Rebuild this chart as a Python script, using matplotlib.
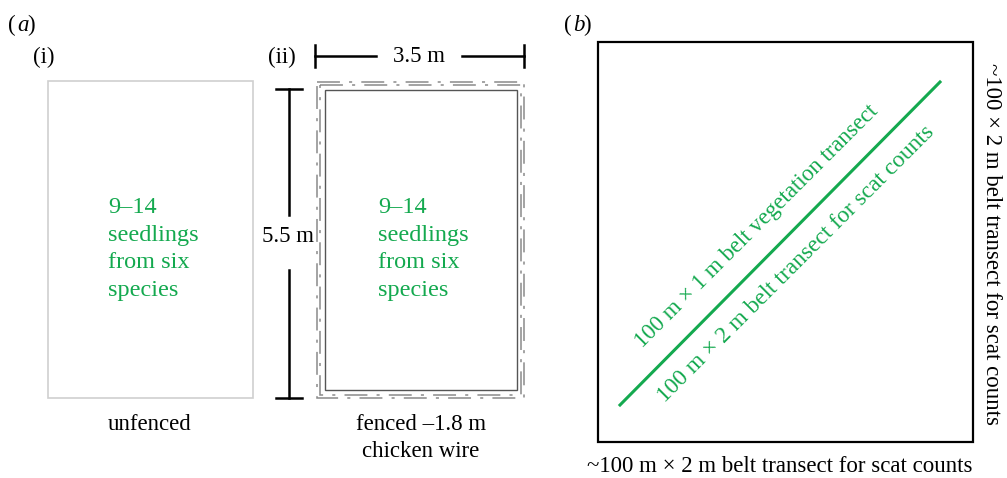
import matplotlib.pyplot as plt
from matplotlib.patches import Rectangle

plt.rcParams['font.family'] = ['Liberation Serif', 'DejaVu Serif']

# text content
plot_labels = ['(i)', '(ii)']
seedling_text = ['9–14', 'seedlings', 'from six', 'species']
plot_captions = ['unfenced', 'fenced –1.8 m\nchicken wire']
dim_labels = ['3.5 m', '5.5 m']
transect_labels = ['100 m × 1 m belt vegetation transect',
                   '100 m × 2 m belt transect for scat counts']
scat_label_right = '~100 × 2 m belt transect for scat counts'
scat_label_bottom = '~100 m × 2 m belt transect for scat counts'

green = '#14a94f'
fs = 16.5
fs_green = 17.5

fig = plt.figure(figsize=(10.07, 4.78), dpi=100)
ax = fig.add_axes([0, 0, 1, 1])
ax.set_xlim(0, 1007)
ax.set_ylim(478, 0)
ax.axis('off')

# panel labels
ax.text(8, 25, '(', fontsize=fs, va='center', ha='left')
ax.text(17, 25, 'a', fontsize=fs, va='center', ha='left', style='italic')
ax.text(27, 25, ')', fontsize=fs, va='center', ha='left')
ax.text(564, 25, '(', fontsize=fs, va='center', ha='left')
ax.text(573, 25, 'b', fontsize=fs, va='center', ha='left', style='italic')
ax.text(583, 25, ')', fontsize=fs, va='center', ha='left')

ax.text(33, 57, plot_labels[0], fontsize=fs, va='center', ha='left')
ax.text(268, 57, plot_labels[1], fontsize=fs, va='center', ha='left')

# (i) unfenced plot
ax.add_patch(Rectangle((48, 81), 205, 317, fill=False, ec='#cfcfcf', lw=1.2))
ax.text(108, 249, '\n'.join(seedling_text), color=green, fontsize=fs_green,
        va='center', ha='left', linespacing=1.42)
ax.text(150, 425, plot_captions[0], fontsize=fs, va='center', ha='center')

# (ii) fenced plot
ax.add_patch(Rectangle((325, 90), 192, 300, fill=False, ec='#555555', lw=1.0))
for off in (0, 3):
    ax.add_patch(Rectangle((317 + off, 82 + off), 207 - 2 * off, 316 - 2 * off,
                           fill=False, ec='#8a8a8a', lw=1.1,
                           ls=(0, (15, 6, 2, 6))))
ax.text(378, 249, '\n'.join(seedling_text), color=green, fontsize=fs_green,
        va='center', ha='left', linespacing=1.42)
ax.text(421, 438, plot_captions[1], fontsize=fs, va='center', ha='center',
        linespacing=1.35)

# dimension markers
ax.plot([315, 376], [56, 56], color='black', lw=1.8)
ax.plot([462, 524], [56, 56], color='black', lw=1.8)
ax.plot([315, 315], [45, 67], color='black', lw=1.8)
ax.plot([524, 524], [45, 67], color='black', lw=1.8)
ax.text(419, 56, dim_labels[0], fontsize=fs, va='center', ha='center')

ax.plot([289, 289], [89, 215], color='black', lw=1.8)
ax.plot([289, 289], [270, 398], color='black', lw=1.8)
ax.plot([276, 302], [89, 89], color='black', lw=1.8)
ax.plot([276, 302], [398, 398], color='black', lw=1.8)
ax.text(288, 236, dim_labels[1], fontsize=fs, va='center', ha='center')

# (b) transect plot
ax.add_patch(Rectangle((598, 42), 375, 400, fill=False, ec='black', lw=1.6))
ax.plot([620, 940], [405, 82], color=green, lw=2.2)
ax.text(757, 226, transect_labels[0], color=green, fontsize=fs, rotation=45,
        rotation_mode='anchor', va='center', ha='center')
ax.text(796, 264, transect_labels[1], color=green, fontsize=16.8, rotation=45,
        rotation_mode='anchor', va='center', ha='center')
ax.text(991, 244, scat_label_right, fontsize=fs, rotation=-90,
        va='center', ha='center')
ax.text(780, 467, scat_label_bottom, fontsize=fs, va='center', ha='center')

fig.savefig('out.png', dpi=100)
